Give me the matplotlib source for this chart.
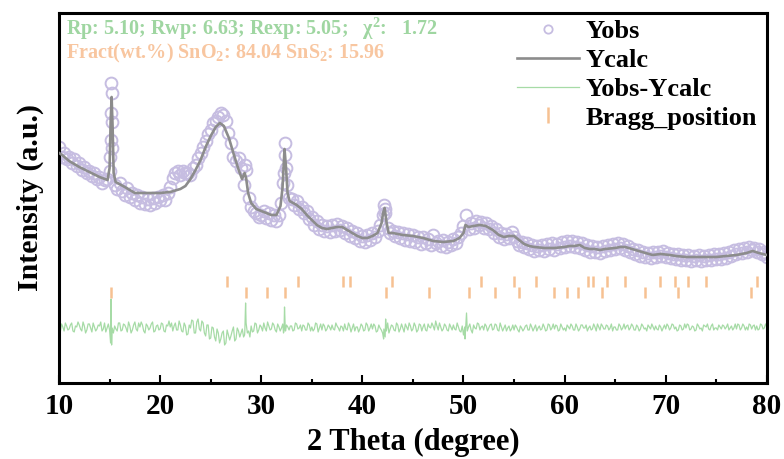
import numpy as np
import matplotlib
matplotlib.use("Agg")
import matplotlib.pyplot as plt
from matplotlib.lines import Line2D

plt.rcParams['font.family'] = ['Liberation Serif', 'DejaVu Serif']
plt.rcParams['font.weight'] = 'bold'
plt.rcParams['mathtext.fontset'] = 'custom'
plt.rcParams['mathtext.rm'] = 'Liberation Serif:bold'
plt.rcParams['mathtext.bf'] = 'Liberation Serif:bold'

# ---- data (intensity in arbitrary units) ----
# observed points on a 0.25 degree grid, 10 .. 80
obs_start, obs_step = 10.0, 0.25
yobs_grid = [
    236, 226, 230, 224,  # 10
    226, 220, 224, 217,  # 11
    220, 213, 216, 210,  # 12
    212, 207, 210, 204,  # 13
    206, 200, 203, 204,  # 14
    212, 235, 198, 194,  # 15
    200, 192, 188, 195,  # 16
    186, 190, 183, 188,  # 17
    180, 186, 179, 184,  # 18
    178, 185, 180, 186,  # 19
    183, 188, 183, 190,  # 20
    196, 205, 210, 212,  # 21
    208, 212, 210, 210,  # 22
    208, 215, 218, 225,  # 23
    230, 236, 242, 249,  # 24
    253, 260, 262, 266,  # 25
    270, 268, 262, 250,  # 26
    240, 226, 222, 225,  # 27
    215, 198, 213, 185,  # 28
    176, 172, 170, 166,  # 29
    168, 172, 165, 170,  # 30
    163, 168, 162, 168,  # 31
    180, 210, 198, 185,  # 32
    184, 178, 182, 174,  # 33
    176, 170, 172, 164,  # 34
    166, 158, 162, 154,  # 35
    158, 152, 157, 151,  # 36
    158, 152, 159, 153,  # 37
    157, 150, 155, 147,  # 38
    152, 145, 150, 142,  # 39
    147, 141, 148, 143,  # 40
    150, 146, 152, 158,  # 41
    168, 174, 155, 150,  # 42
    152, 147, 151, 145,  # 43
    150, 143, 149, 142,  # 44
    148, 141, 146, 139,  # 45
    146, 140, 144, 138,  # 46
    148, 140, 142, 137,  # 47
    143, 136, 141, 138,  # 48
    144, 140, 146, 150,  # 49
    157, 168, 154, 160,  # 50
    155, 162, 158, 161,  # 51
    155, 160, 154, 157,  # 52
    150, 154, 146, 150,  # 53
    144, 149, 145, 151,  # 54
    146, 142, 138, 141,  # 55
    136, 140, 134, 138,  # 56
    132, 137, 133, 138,  # 57
    132, 139, 134, 140,  # 58
    133, 139, 135, 141,  # 59
    136, 142, 137, 142,  # 60
    136, 141, 135, 140,  # 61
    133, 138, 131, 137,  # 62
    131, 136, 130, 137,  # 63
    132, 138, 133, 139,  # 64
    134, 140, 135, 139,  # 65
    133, 137, 131, 134,  # 66
    129, 133, 127, 131,  # 67
    126, 130, 125, 131,  # 68
    126, 131, 127, 132,  # 69
    126, 130, 125, 129,  # 70
    124, 129, 123, 128,  # 71
    123, 128, 122, 127,  # 72
    123, 128, 122, 127,  # 73
    123, 128, 123, 129,  # 74
    124, 129, 124, 130,  # 75
    125, 131, 127, 133,  # 76
    129, 134, 130, 135,  # 77
    131, 136, 133, 135,  # 78
    131, 134, 129, 131,  # 79
    126,                 # 80
]
# extra observed points on the sharp peaks
peak_x = [15.05, 15.1, 15.12, 15.15, 15.2, 15.22, 28.4, 32.15, 32.3, 32.35, 32.4, 42.15, 42.2]
peak_y = [226, 243, 270, 300, 290, 261, 218, 200, 240, 228, 215, 178, 170]

# calculated profile
calc_x = [10.0, 10.3, 11, 12, 13, 14, 14.8, 15.0, 15.1, 15.2, 15.3, 15.4, 15.6, 16.5, 17.5,
          18.5, 20, 21, 22, 22.5, 23, 23.5, 24, 24.5, 25, 25.5, 25.9, 26.3, 26.8, 27.3,
          27.8, 28.1, 28.35, 28.5, 28.7, 29, 29.5, 30, 30.5, 31, 31.5, 31.9, 32.1, 32.3,
          32.45, 32.6, 32.8, 33.5, 34, 34.5, 35, 35.5, 36, 36.5, 37, 37.5, 38, 38.5, 39,
          39.5, 40, 40.5, 41, 41.5, 41.9, 42.05, 42.2, 42.4, 42.6, 43, 43.5, 44, 45, 46,
          47, 48, 49, 49.6, 50.0, 50.2, 50.5, 51, 51.6, 52.2, 52.9, 53.5, 54, 54.5, 55,
          55.5, 56, 56.5, 57, 58, 59, 60, 60.5, 61, 61.5, 62, 62.5, 63, 63.5, 64, 65,
          65.5, 66, 67, 68, 68.7, 69.5, 70.4, 71, 72, 73, 74, 75, 76, 77, 78, 78.6, 79.2, 80]
ycalc = [230, 228, 222, 216, 211, 206, 203, 215, 260, 286, 255, 210, 201, 196, 190,
         190, 190, 191, 194, 197, 204, 213, 223, 236, 247, 256, 260, 257, 245, 228,
         212, 204, 210, 205, 190, 180, 174, 172, 170, 168, 168, 177, 195, 234,
         215, 190, 182, 178, 174, 168, 163, 158, 155, 154, 155, 156, 156, 153, 150,
         147, 145, 145, 147, 150, 160, 170, 175, 160, 150, 150, 149, 148, 147, 145,
         142, 141, 142, 145, 150, 158, 156, 157, 158, 157, 153, 148, 146, 147, 147,
         143, 139, 137, 136, 135, 135, 136, 137, 137, 138, 135, 134, 134, 133, 134, 135,
         136, 136, 133, 130, 128, 129, 128, 127, 126, 126, 126, 126, 127, 128, 130, 132, 130, 128]

# difference curve: values at x.0, x.25, x.5, x.75 ...
diff_grid = [
    55, 59, 52, 57,  54, 60, 51, 56,  58, 52, 57, 53,  59, 51, 56, 54,  57, 52, 60, 55,  # 10-14
    53, 55, 57, 52,  60, 53, 58, 51,  57, 53, 61, 52,  56, 58, 50, 57,  55, 61, 52, 58,  # 15-19
    54, 59, 51, 57,  56, 52, 60, 53,  58, 51, 57, 49,  55, 62, 50, 64,  52, 60, 47, 58,  # 20-24
    45, 55, 42, 50,  44, 52, 40, 48,  47, 56, 44, 52,  50, 46, 60, 52,  57, 52, 59, 53,  # 25-29
    56, 60, 52, 57,  54, 58, 51, 56,  55, 52, 58, 53,  57, 53, 59, 55,  52, 57, 53, 58,  # 30-34
    56, 54, 59, 55,  53, 57, 54, 56,  58, 53, 57, 52,  56, 59, 53, 57,  55, 52, 56, 54,  # 35-39
    57, 53, 58, 55,  54, 57, 52, 55,  50, 46, 60, 54,  57, 52, 58, 54,  55, 59, 53, 57,  # 40-44
    54, 57, 53, 58,  56, 53, 59, 55,  57, 62, 53, 56,  54, 57, 52, 56,  58, 53, 56, 51,  # 45-49
    48, 62, 56, 53,  58, 54, 59, 56,  53, 57, 55, 59,  54, 58, 52, 56,  55, 52, 57, 54,  # 50-54
    53, 56, 51, 55,  54, 58, 53, 56,  55, 52, 57, 54,  56, 53, 58, 55,  54, 57, 53, 56,  # 55-59
    55, 58, 54, 57,  53, 56, 54, 58,  55, 52, 57, 54,  56, 59, 53, 57,  54, 57, 55, 52,  # 60-64
    56, 53, 57, 55,  54, 58, 55, 57,  53, 56, 54, 57,  55, 58, 54, 56,  57, 53, 56, 55,  # 65-69
    54, 57, 55, 58,  56, 53, 57, 54,  55, 58, 54, 56,  53, 57, 55, 58,  56, 54, 57, 53,  # 70-74
    55, 58, 54, 57,  56, 53, 57, 55,  54, 58, 55, 57,  56, 59, 54, 58,  57, 54, 58, 55,  # 75-79
    56,                                                                                   # 80
]
# ... and at x.125, x.375, x.625, x.875
diff_mid = [
    51, 56, 60, 53,  58, 52, 57, 61,  54, 61, 50, 59,  55, 60, 52, 58,  61, 54, 51, 59,  # 10-14
    58, 50, 54, 60,  52, 59, 55, 61,  50, 58, 54, 60,  61, 52, 59, 53,  59, 51, 57, 53,  # 15-19
    60, 52, 58, 62,  60, 57, 53, 62,  52, 60, 48, 58,  63, 50, 61, 54,  62, 50, 58, 44,  # 20-24
    56, 46, 54, 40,  50, 38, 53, 43,  52, 42, 55, 46,  54, 52, 50, 46,  51, 60, 50, 58,  # 25-29
    52, 55, 61, 53,  60, 53, 59, 52,  59, 54, 56, 57,  52, 60, 54, 58,  58, 53, 60, 52,  # 30-34
    52, 60, 51, 59,  59, 52, 58, 53,  54, 60, 55, 57,  52, 54, 60, 51,  59, 56, 51, 59,  # 35-39
    52, 60, 52, 59,  59, 51, 58, 53,  54, 52, 50, 58,  53, 60, 51, 59,  51, 56, 60, 52,  # 40-44
    60, 51, 59, 52,  59, 52, 56, 60,  53, 57, 60, 52,  59, 53, 59, 53,  54, 60, 52, 57,  # 45-49
    56, 52, 59, 50,  55, 60, 53, 57,  59, 52, 58, 53,  59, 53, 60, 52,  58, 55, 52, 58,  # 50-54
    58, 53, 57, 52,  57, 53, 59, 52,  58, 55, 53, 59,  52, 59, 53, 59,  58, 52, 59, 53,  # 55-59
    52, 56, 59, 53,  59, 52, 58, 55,  58, 55, 53, 59,  52, 56, 59, 54,  58, 53, 59, 56,  # 60-64
    53, 59, 53, 59,  57, 53, 59, 53,  58, 52, 59, 54,  52, 56, 59, 53,  54, 58, 52, 58,  # 65-69
    59, 53, 59, 54,  52, 58, 53, 59,  59, 53, 57, 52,  59, 54, 52, 57,  59, 53, 59, 55,  # 70-74
    53, 56, 58, 54,  59, 55, 53, 59,  59, 53, 59, 53,  53, 58, 57, 53,  53, 59, 54, 59,  # 75-79
]
diff_peak_x = [15.1, 15.15, 15.2, 28.35, 28.45, 32.2, 32.3, 32.4, 42.1, 42.3, 50.15, 50.3]
diff_peak_y = [40, 84, 38, 48, 80, 50, 76, 52, 44, 64, 44, 70]

# Bragg reflections
bragg_sno2 = [26.6, 33.6, 38.1, 38.8, 42.9, 51.7, 55.0, 57.2, 62.3, 62.8, 64.2, 66.0,
              69.4, 70.9, 72.2, 74.0, 79.0]
bragg_sns2 = [15.1, 28.5, 30.6, 32.3, 42.3, 46.6, 50.5, 53.1, 55.5, 59.0, 60.2, 61.3,
              63.7, 68.0, 71.2, 78.4]

# ---- plot ----
c_obs = '#c6bde1'
c_calc = '#8c8c8c'
c_diff = '#a6dba6'
c_bragg = '#f6c192'

fig = plt.figure(figsize=(7.84, 4.59), dpi=100)
ax = fig.add_axes([0.0753, 0.1656, 0.9028, 0.8061])

grid_x = obs_start + obs_step * np.arange(len(yobs_grid))
ox = np.concatenate([grid_x, peak_x])
oy = np.concatenate([yobs_grid, peak_y])
order = np.argsort(ox)
ax.plot(ox[order], oy[order], 'o', ms=8.5, mfc='none', mec=c_obs, mew=1.4, zorder=2)

ax.plot(calc_x, ycalc, '-', color=c_calc, lw=1.9, zorder=3)

dgx = obs_start + obs_step * np.arange(len(diff_grid))
dmx = obs_start + obs_step / 2 + obs_step * np.arange(len(diff_mid))
dx = np.concatenate([dgx, dmx, diff_peak_x])
dy = np.concatenate([diff_grid, diff_mid, diff_peak_y])
order = np.argsort(dx)
ax.plot(dx[order], dy[order], '-', color=c_diff, lw=0.9, zorder=2)

ax.vlines(bragg_sno2, 96, 107, color=c_bragg, lw=1.8)
ax.vlines(bragg_sns2, 85, 96, color=c_bragg, lw=1.8)

ax.set_xlim(10, 80)
ax.set_ylim(0, 370)
ax.set_yticks([])
ax.set_xticks(range(10, 81, 10))
ax.set_xticks(range(15, 80, 10), minor=True)
ax.tick_params(axis='x', which='major', direction='in', length=6, width=1.5,
               labelsize=21, pad=7)
ax.tick_params(axis='x', which='minor', direction='in', length=3, width=1.5)
for s in ax.spines.values():
    s.set_linewidth(2.2)

ax.set_xlabel('2 Theta (degree)', fontsize=22, fontweight='bold', labelpad=6)
ax.set_ylabel('Intensity (a.u.)', fontsize=21.5, fontweight='bold', labelpad=11)

ax.text(0.01, 0.94, 'Rp: 5.10; Rwp: 6.63; Rexp: 5.05;   ' + '\u03c7' + r'$^2$:   1.72',
        transform=ax.transAxes, fontsize=14.5, color='#9fd6a1', va='baseline',
        fontweight='bold')
ax.text(0.01, 0.878, r'Fract(wt.%) SnO$_2$: 84.04 SnS$_2$: 15.96',
        transform=ax.transAxes, fontsize=14.5, color='#f8c6a0', va='baseline',
        fontweight='bold')

handles = [
    Line2D([], [], ls='none', marker='o', ms=6, mfc='none', mec=c_obs, mew=1.3),
    Line2D([], [], color=c_calc, lw=1.9),
    Line2D([], [], color=c_diff, lw=0.9),
    Line2D([], [], ls='none', marker='|', ms=11, mew=1.8, color=c_bragg),
]
labels = ['Yobs', 'Ycalc', 'Yobs-Ycalc', 'Bragg_position']
ax.legend(handles, labels, loc='upper right', frameon=False,
          prop={'family': 'Liberation Serif', 'weight': 'bold', 'size': 19},
          handlelength=2.35, handletextpad=0.23, labelspacing=0.2,
          borderaxespad=0.0, bbox_to_anchor=(1.001, 1.01))

fig.savefig('out.png', dpi=100)
